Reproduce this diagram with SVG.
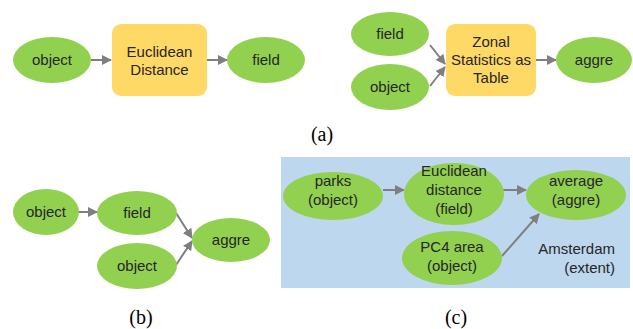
<svg xmlns="http://www.w3.org/2000/svg" width="633" height="329" viewBox="0 0 633 329">
<defs>
<marker id="ah" viewBox="0 0 10 10" refX="9" refY="5" markerWidth="5" markerHeight="5" orient="auto" markerUnits="strokeWidth">
<path d="M0,0 L10,5 L0,10 z" fill="#7F7F7F"/>
</marker>
<style>
.g{fill:#92D050}
.y{fill:#FFD966}
.t{font-family:"Liberation Sans",Arial,sans-serif;font-size:15px;fill:#262626;text-anchor:middle}
.c{font-family:"Liberation Serif","Times New Roman",serif;font-size:20px;fill:#000;text-anchor:middle}
.e{stroke:#7F7F7F;stroke-width:2;fill:none;marker-end:url(#ah)}
</style>
</defs>
<rect width="633" height="329" fill="#fff"/>
<rect id="extent" x="281" y="157" width="349" height="131" fill="#BDD7EE"/>
<g id="connectors">
<line class="e" x1="91" y1="60" x2="111" y2="60"/>
<line class="e" x1="207" y1="60" x2="227" y2="60"/>
<line class="e" x1="430" y1="45" x2="445" y2="64"/>
<line class="e" x1="430" y1="86" x2="445" y2="67"/>
<line class="e" x1="536" y1="60" x2="556" y2="60"/>
<line class="e" x1="78" y1="212" x2="97" y2="212"/>
<line class="e" x1="176" y1="213" x2="192" y2="238"/>
<line class="e" x1="176" y1="265" x2="192" y2="241"/>
<line class="e" x1="383" y1="190" x2="404" y2="190"/>
<line class="e" x1="503" y1="190" x2="526" y2="190"/>
<line class="e" x1="502" y1="256" x2="539" y2="214"/>
</g>
<g id="a-object"><ellipse class="g" cx="52" cy="60" rx="39" ry="23"/><text class="t" x="52" y="65">object</text></g>
<g id="a-euclid"><rect class="y" x="112" y="24" width="95" height="72" rx="9"/><text class="t" x="159.5" y="57">Euclidean</text><text class="t" x="159.5" y="75">Distance</text></g>
<g id="a-field"><ellipse class="g" cx="266" cy="60" rx="39" ry="23"/><text class="t" x="266" y="65">field</text></g>
<g id="a2-field"><ellipse class="g" cx="390" cy="34" rx="39" ry="22"/><text class="t" x="390" y="39">field</text></g>
<g id="a2-object"><ellipse class="g" cx="390" cy="87" rx="39" ry="23"/><text class="t" x="390" y="92">object</text></g>
<g id="a2-zonal"><rect class="y" x="446" y="24" width="90" height="72" rx="9"/><text class="t" x="491" y="47">Zonal</text><text class="t" x="491" y="65">Statistics as</text><text class="t" x="491" y="83">Table</text></g>
<g id="a2-aggre"><ellipse class="g" cx="594" cy="60" rx="38" ry="23"/><text class="t" x="594" y="65">aggre</text></g>
<g id="b-object"><ellipse class="g" cx="46" cy="212" rx="33" ry="23"/><text class="t" x="46" y="217">object</text></g>
<g id="b-field"><ellipse class="g" cx="137" cy="213" rx="40" ry="22"/><text class="t" x="137" y="218">field</text></g>
<g id="b-object2"><ellipse class="g" cx="137" cy="266" rx="40" ry="23"/><text class="t" x="137" y="271">object</text></g>
<g id="b-aggre"><ellipse class="g" cx="231" cy="240" rx="39" ry="22"/><text class="t" x="231" y="245">aggre</text></g>
<g id="c-parks"><ellipse class="g" cx="333" cy="196" rx="50" ry="24"/><text class="t" x="333" y="186">parks</text><text class="t" x="333" y="205">(object)</text></g>
<g id="c-euclid"><ellipse class="g" cx="454" cy="194" rx="50" ry="31"/><text class="t" x="454" y="176">Euclidean</text><text class="t" x="454" y="195">distance</text><text class="t" x="454" y="214">(field)</text></g>
<g id="c-average"><ellipse class="g" cx="576" cy="195" rx="50" ry="25"/><text class="t" x="576" y="186">average</text><text class="t" x="576" y="205">(aggre)</text></g>
<g id="c-pc4"><ellipse class="g" cx="452" cy="258" rx="50" ry="27"/><text class="t" x="452" y="252">PC4 area</text><text class="t" x="452" y="271">(object)</text></g>
<text class="t" x="615" y="254" style="text-anchor:end">Amsterdam</text>
<text class="t" x="615" y="273" style="text-anchor:end">(extent)</text>
<text class="c" x="322" y="141">(a)</text>
<text class="c" x="141" y="324">(b)</text>
<text class="c" x="456" y="324">(c)</text>
</svg>
